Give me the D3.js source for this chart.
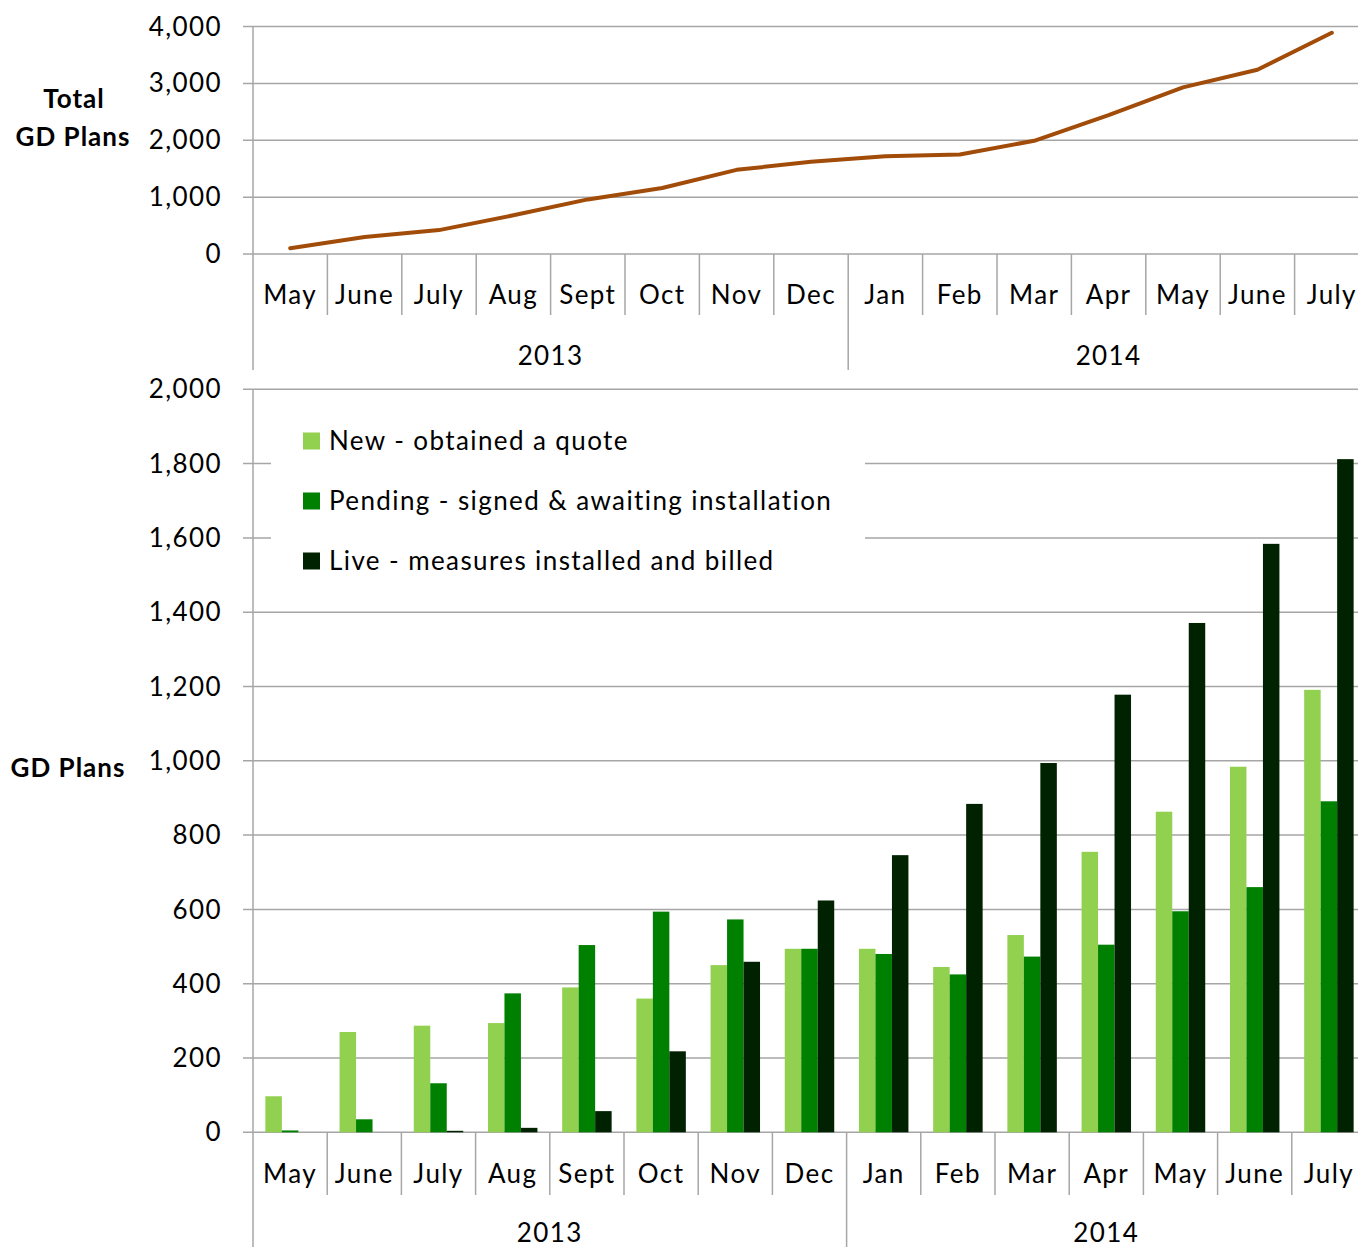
<!DOCTYPE html>
<html>
<head>
<meta charset="utf-8">
<script src="https://cdn.jsdelivr.net/npm/d3@7"></script>
<style>
  body { margin: 0; background: #fff; }
  text { font-family: Lato, "Open Sans", sans-serif; fill: #000; letter-spacing: 1.4px; }
  text.bold { font-weight: bold; letter-spacing: 1px; }
</style>
</head>
<body>
<svg width="1358" height="1247"></svg>
<script>
// Data
var months = ['May', 'June', 'July', 'Aug', 'Sept', 'Oct', 'Nov', 'Dec',
              'Jan', 'Feb', 'Mar', 'Apr', 'May', 'June', 'July'];
var years = ['2013', '2014'];
var yearStart = [0, 8];   // index of first month in each year
var yearEnd = [8, 15];
var totalPlans = [100, 300, 420, 680, 960, 1160, 1480, 1620, 1720, 1750, 1990, 2440, 2930, 3240, 3890];
var newQuote = [97, 270, 287, 294, 390, 360, 450, 494, 494, 445, 531, 755, 863, 984, 1191];
var pending = [5, 35, 132, 374, 504, 594, 573, 494, 480, 425, 473, 505, 595, 660, 891];
var live = [0, 0, 4, 12, 57, 218, 459, 624, 746, 884, 994, 1178, 1371, 1584, 1812];
var seriesNames = ['New - obtained a quote', 'Pending - signed & awaiting installation',
                   'Live - measures installed and billed'];
var seriesColors = ['#92d050', '#008000', '#002200'];
var topTicks = [0, 1000, 2000, 3000, 4000];
var botTicks = d3.range(0, 2001, 200);

var svg = d3.select('svg');
var grid = '#a6a6a6';
var fs = 26;
var fmt = d3.format(',');
var idx = d3.range(months.length);

// shared axis drawing for the two panels
function drawFrame(g, x, y, ticks, yTop, baseY, monthY, tickBottom, yearLineBottom, yearY) {
  g.selectAll('.grid').data(ticks).enter().append('line')
    .attr('x1', x.range()[0] - 10).attr('x2', 1358)
    .attr('y1', d => y(d)).attr('y2', d => y(d))
    .attr('stroke', grid).attr('stroke-width', 1.5);
  g.selectAll('.ylab').data(ticks).enter().append('text')
    .attr('x', 222).attr('y', d => y(d)).attr('dy', '0.35em')
    .attr('text-anchor', 'end').attr('font-size', fs)
    .text(d => fmt(d));
  // y axis line
  g.append('line').attr('x1', x.range()[0]).attr('x2', x.range()[0])
    .attr('y1', yTop).attr('y2', yearLineBottom)
    .attr('stroke', grid).attr('stroke-width', 1.5);
  // month separators
  g.selectAll('.mtick').data(idx.slice(1)).enter().append('line')
    .attr('x1', d => x(d)).attr('x2', d => x(d))
    .attr('y1', baseY).attr('y2', d => yearStart.indexOf(d) >= 0 ? yearLineBottom : tickBottom)
    .attr('stroke', grid).attr('stroke-width', 1.5);
  g.selectAll('.mlab').data(idx).enter().append('text')
    .attr('x', d => x(d) + x.bandwidth() / 2).attr('y', monthY)
    .attr('text-anchor', 'middle').attr('font-size', fs)
    .text(d => months[d]);
  g.selectAll('.ylabel').data(years).enter().append('text')
    .attr('x', (d, i) => (x(yearStart[i]) + x(yearEnd[i] - 1) + x.bandwidth()) / 2)
    .attr('y', yearY).attr('text-anchor', 'middle').attr('font-size', fs)
    .text(d => d);
}

// Top panel: total line
var xt = d3.scaleBand().domain(idx).range([253, 1369]);
var yt = d3.scaleLinear().domain([0, 4000]).range([254, 26.5]);
var topPanel = svg.append('g');
drawFrame(topPanel, xt, yt, topTicks, 26.5, 254, 304, 315, 370, 365);
topPanel.append('path')
  .datum(totalPlans)
  .attr('fill', 'none').attr('stroke', '#a24c0a').attr('stroke-width', 4)
  .attr('stroke-linejoin', 'round').attr('stroke-linecap', 'round')
  .attr('d', d3.line().x((d, i) => xt(i) + xt.bandwidth() / 2).y(d => yt(d)));
topPanel.append('text').attr('class', 'bold').attr('x', 74).attr('y', 108).attr('text-anchor', 'middle')
  .attr('font-size', fs).text('Total');
topPanel.append('text').attr('class', 'bold').attr('x', 73).attr('y', 146).attr('text-anchor', 'middle')
  .attr('font-size', fs).text('GD Plans');

// Bottom panel: grouped bars
var xb = d3.scaleBand().domain(idx).range([253, 1366]);
var yb = d3.scaleLinear().domain([0, 2000]).range([1132.3, 389.3]);
var x1 = d3.scaleBand().domain([0, 1, 2]).range([0, xb.bandwidth()]).paddingOuter(0.75);
var botPanel = svg.append('g');
drawFrame(botPanel, xb, yb, botTicks, 389.3, 1132.3, 1183, 1195, 1247, 1242);

var seriesData = [newQuote, pending, live];
// legend box hides gridlines behind it
botPanel.append('rect').attr('x', 271).attr('y', 400).attr('width', 594).attr('height', 190).attr('fill', '#fff');

var groups = botPanel.selectAll('.series').data(seriesData).enter().append('g')
  .attr('fill', (d, i) => seriesColors[i]);
groups.each(function(vals, s) {
  d3.select(this).selectAll('rect').data(vals).enter().append('rect')
    .attr('x', (d, i) => xb(i) + x1(s))
    .attr('width', x1.bandwidth())
    .attr('y', d => yb(d))
    .attr('height', d => yb(0) - yb(d));
});

botPanel.append('text').attr('class', 'bold').attr('x', 68).attr('y', 777).attr('text-anchor', 'middle')
  .attr('font-size', fs).text('GD Plans');

var legend = botPanel.selectAll('.leg').data(seriesNames).enter().append('g')
  .attr('transform', (d, i) => 'translate(303,' + (441 + i * 60) + ')');
legend.append('rect').attr('x', 0).attr('y', -8.5).attr('width', 17).attr('height', 17)
  .attr('fill', (d, i) => seriesColors[i]);
legend.append('text').attr('x', 26).attr('y', 0).attr('dy', '0.35em')
  .attr('font-size', fs).text(d => d);
</script>
</body>
</html>
